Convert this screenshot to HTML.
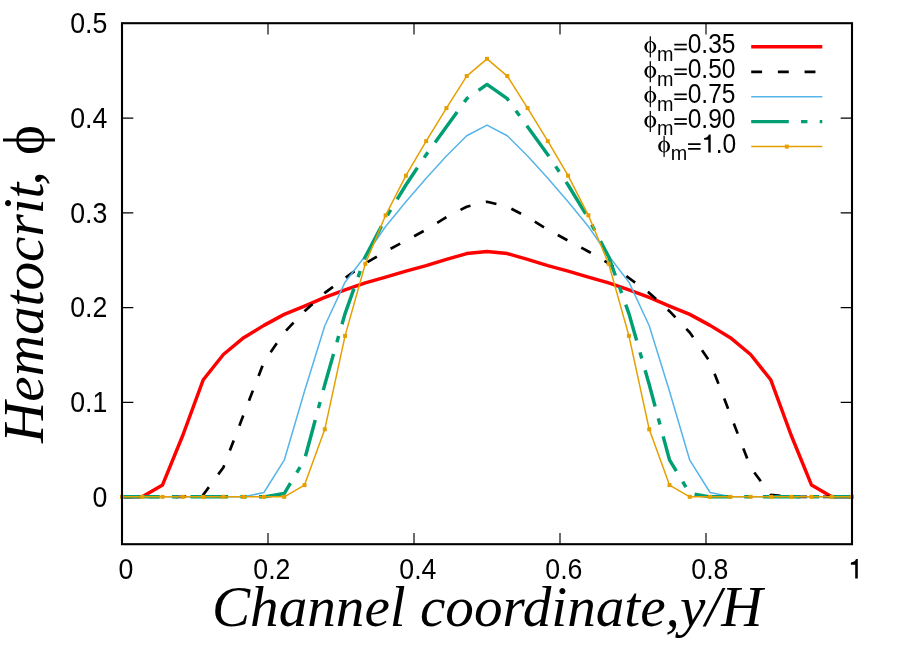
<!DOCTYPE html>
<html><head><meta charset="utf-8"><title>Hematocrit profile</title>
<style>html,body{margin:0;padding:0;background:#fff}svg{display:block;will-change:transform}</style></head>
<body>
<svg width="897" height="669" viewBox="0 0 897 669">
<rect width="897" height="669" fill="#fff"/>
<g stroke="#000" stroke-width="1.15" fill="none">
<path d="M122.00,497.04h11.3 M852.00,497.04h-11.3"/>
<path d="M122.00,402.31h11.3 M852.00,402.31h-11.3"/>
<path d="M122.00,307.58h11.3 M852.00,307.58h-11.3"/>
<path d="M122.00,212.85h11.3 M852.00,212.85h-11.3"/>
<path d="M122.00,118.13h11.3 M852.00,118.13h-11.3"/>
<path d="M268.00,544.20v-11.3 M268.00,23.20v11.3"/>
<path d="M414.00,544.20v-11.3 M414.00,23.20v11.3"/>
<path d="M560.00,544.20v-11.3 M560.00,23.20v11.3"/>
<path d="M706.00,544.20v-11.3 M706.00,23.20v11.3"/>
</g>
<g fill="none" stroke-linejoin="round">
<polyline points="122.00,496.84 142.28,496.84 162.56,484.90 182.83,435.26 203.11,380.04 223.39,354.46 243.67,337.69 263.94,325.38 284.22,314.39 304.50,306.06 324.78,297.44 345.06,289.95 365.33,282.94 385.61,277.07 405.89,271.10 426.17,265.70 446.44,259.45 466.72,253.58 487.00,251.49 507.28,253.58 527.56,259.45 547.83,265.70 568.11,271.10 588.39,277.07 608.67,282.94 628.94,289.95 649.22,297.44 669.50,306.06 689.78,314.39 710.06,325.38 730.33,337.69 750.61,354.46 770.89,380.04 791.17,435.26 811.44,484.90 831.72,496.84 852.00,496.84" stroke="#ff0000" stroke-width="3.45"/>
<polyline points="122.00,496.84 142.28,496.84 162.56,496.84 182.83,496.84 203.11,494.94 223.39,467.47 243.67,414.42 263.94,362.04 284.22,332.48 304.50,311.17 324.78,292.89 345.06,278.02 365.33,263.33 385.61,251.49 405.89,240.60 426.17,229.71 446.44,217.01 466.72,206.69 487.00,201.76 507.28,206.69 527.56,217.01 547.83,229.71 568.11,240.60 588.39,251.49 608.67,263.33 628.94,278.02 649.22,292.89 669.50,311.17 689.78,332.48 710.06,362.04 730.33,414.42 750.61,467.47 770.89,494.94 791.17,496.84 811.44,496.84 831.72,496.84 852.00,496.84" stroke="#000" stroke-width="2.7" stroke-dasharray="10.9,15.78"/>
<polyline points="122.00,496.84 142.28,496.84 162.56,496.84 182.83,496.84 203.11,496.84 223.39,496.84 243.67,496.84 263.94,492.48 284.22,460.18 304.50,391.22 324.78,325.76 345.06,282.18 365.33,255.76 385.61,226.48 405.89,201.76 426.17,178.17 446.44,155.91 466.72,135.74 487.00,125.13 507.28,135.74 527.56,155.91 547.83,178.17 568.11,201.76 588.39,226.48 608.67,255.76 628.94,282.18 649.22,325.76 669.50,391.22 689.78,460.18 710.06,492.48 730.33,496.84 750.61,496.84 770.89,496.84 791.17,496.84 811.44,496.84 831.72,496.84 852.00,496.84" stroke="#56b4e9" stroke-width="1.5"/>
<polyline points="122.00,496.84 142.28,496.84 162.56,496.84 182.83,496.84 203.11,496.84 223.39,496.84 243.67,496.84 263.94,496.84 284.22,493.52 304.50,459.89 324.78,384.58 345.06,313.63 365.33,256.70 385.61,218.34 405.89,184.99 426.17,154.68 446.44,126.83 466.72,98.70 487.00,84.39 507.28,98.70 527.56,126.83 547.83,154.68 568.11,184.99 588.39,218.34 608.67,256.70 628.94,313.63 649.22,384.58 669.50,459.89 689.78,493.52 710.06,496.84 730.33,496.84 750.61,496.84 770.89,496.84 791.17,496.84 811.44,496.84 831.72,496.84 852.00,496.84" stroke="#009e73" stroke-width="3.45" stroke-dasharray="37.6,12.25,6.4,12.25"/>
<polyline points="122.00,496.84 142.28,496.84 162.56,496.84 182.83,496.84 203.11,496.84 223.39,496.84 243.67,496.84 263.94,496.84 284.22,496.84 304.50,485.09 324.78,429.30 345.06,335.89 365.33,263.81 385.61,215.31 405.89,175.71 426.17,141.14 446.44,108.08 466.72,76.06 487.00,58.82 507.28,76.06 527.56,108.08 547.83,141.14 568.11,175.71 588.39,215.31 608.67,263.81 628.94,335.89 649.22,429.30 669.50,485.09 689.78,496.84 710.06,496.84 730.33,496.84 750.61,496.84 770.89,496.84 791.17,496.84 811.44,496.84 831.72,496.84 852.00,496.84" stroke="#e69f00" stroke-width="1.5"/>
</g>
<g fill="#e69f00">
<rect x="120.00" y="494.84" width="4" height="4"/>
<rect x="140.28" y="494.84" width="4" height="4"/>
<rect x="160.56" y="494.84" width="4" height="4"/>
<rect x="180.83" y="494.84" width="4" height="4"/>
<rect x="201.11" y="494.84" width="4" height="4"/>
<rect x="221.39" y="494.84" width="4" height="4"/>
<rect x="241.67" y="494.84" width="4" height="4"/>
<rect x="261.94" y="494.84" width="4" height="4"/>
<rect x="282.22" y="494.84" width="4" height="4"/>
<rect x="302.50" y="483.09" width="4" height="4"/>
<rect x="322.78" y="427.30" width="4" height="4"/>
<rect x="343.06" y="333.89" width="4" height="4"/>
<rect x="363.33" y="261.81" width="4" height="4"/>
<rect x="383.61" y="213.31" width="4" height="4"/>
<rect x="403.89" y="173.71" width="4" height="4"/>
<rect x="424.17" y="139.14" width="4" height="4"/>
<rect x="444.44" y="106.08" width="4" height="4"/>
<rect x="464.72" y="74.06" width="4" height="4"/>
<rect x="485.00" y="56.82" width="4" height="4"/>
<rect x="505.28" y="74.06" width="4" height="4"/>
<rect x="525.56" y="106.08" width="4" height="4"/>
<rect x="545.83" y="139.14" width="4" height="4"/>
<rect x="566.11" y="173.71" width="4" height="4"/>
<rect x="586.39" y="213.31" width="4" height="4"/>
<rect x="606.67" y="261.81" width="4" height="4"/>
<rect x="626.94" y="333.89" width="4" height="4"/>
<rect x="647.22" y="427.30" width="4" height="4"/>
<rect x="667.50" y="483.09" width="4" height="4"/>
<rect x="687.78" y="494.84" width="4" height="4"/>
<rect x="708.06" y="494.84" width="4" height="4"/>
<rect x="728.33" y="494.84" width="4" height="4"/>
<rect x="748.61" y="494.84" width="4" height="4"/>
<rect x="768.89" y="494.84" width="4" height="4"/>
<rect x="789.17" y="494.84" width="4" height="4"/>
<rect x="809.44" y="494.84" width="4" height="4"/>
<rect x="829.72" y="494.84" width="4" height="4"/>
<rect x="850.00" y="494.84" width="4" height="4"/>
</g>
<rect x="122.00" y="23.20" width="730.00" height="521.00" fill="none" stroke="#000" stroke-width="2.1"/>
<g font-family="'Liberation Sans', sans-serif" font-size="26.7" fill="#000">
<text transform="translate(107.3,506.74) scale(1,1.08)" text-anchor="end">0</text>
<text transform="translate(107.3,412.01) scale(1,1.08)" text-anchor="end">0.1</text>
<text transform="translate(107.3,317.28) scale(1,1.08)" text-anchor="end">0.2</text>
<text transform="translate(107.3,222.55) scale(1,1.08)" text-anchor="end">0.3</text>
<text transform="translate(107.3,127.83) scale(1,1.08)" text-anchor="end">0.4</text>
<text transform="translate(107.3,33.10) scale(1,1.08)" text-anchor="end">0.5</text>
<text transform="translate(125.85,579.3) scale(1,1.08)" text-anchor="middle">0</text>
<text transform="translate(271.85,579.3) scale(1,1.08)" text-anchor="middle">0.2</text>
<text transform="translate(417.85,579.3) scale(1,1.08)" text-anchor="middle">0.4</text>
<text transform="translate(563.85,579.3) scale(1,1.08)" text-anchor="middle">0.6</text>
<text transform="translate(709.85,579.3) scale(1,1.08)" text-anchor="middle">0.8</text>
</g>
<path d="M857.8,559.0V578.4H855.2V564.7H850.9V562.4Q854.8,562.2 856.0,559.0Z" fill="#000"/>
<text x="487.2" y="625.7" text-anchor="middle" font-family="'Liberation Serif', serif" font-style="italic" font-size="57.2" fill="#000">Channel coordinate,y/H</text>
<g font-family="'Liberation Serif', serif" fill="#000">
<text transform="translate(43.1,443) rotate(-90)" font-style="italic" font-size="57.2">Hematocrit</text>
<text transform="translate(41.3,185.5) rotate(-90)" font-style="italic" font-size="57.2">,</text>
<text transform="translate(43.1,155.1) rotate(-90)" font-size="57">ϕ</text>
</g>
<path fill-rule="evenodd" fill="#000" d="M644.35,47.00a5.95,6.1 0 1,0 11.9,0a5.95,6.1 0 1,0 -11.9,0Z M646.85,47.00a3.45,5.25 0 1,0 6.9,0a3.45,5.25 0 1,0 -6.9,0Z"/>
<rect x="649.68" y="36.30" width="1.25" height="21.1" fill="#000"/>
<text transform="translate(656.90,60.80) scale(1,1.06)" font-family="'Liberation Sans', sans-serif" font-size="19.8" fill="#000">m</text>
<path d="M674.30,43.70h12.5v1.8h-12.5z M674.30,48.40h12.5v1.8h-12.5z" fill="#000"/>
<text transform="translate(735.55,53.45) scale(1,1.10)" text-anchor="end" font-family="'Liberation Sans', sans-serif" font-size="24.6" fill="#000">0.35</text>
<path fill-rule="evenodd" fill="#000" d="M644.35,71.87a5.95,6.1 0 1,0 11.9,0a5.95,6.1 0 1,0 -11.9,0Z M646.85,71.87a3.45,5.25 0 1,0 6.9,0a3.45,5.25 0 1,0 -6.9,0Z"/>
<rect x="649.68" y="61.17" width="1.25" height="21.1" fill="#000"/>
<text transform="translate(656.90,85.67) scale(1,1.06)" font-family="'Liberation Sans', sans-serif" font-size="19.8" fill="#000">m</text>
<path d="M674.30,68.57h12.5v1.8h-12.5z M674.30,73.27h12.5v1.8h-12.5z" fill="#000"/>
<text transform="translate(735.55,78.32) scale(1,1.10)" text-anchor="end" font-family="'Liberation Sans', sans-serif" font-size="24.6" fill="#000">0.50</text>
<path fill-rule="evenodd" fill="#000" d="M644.35,96.74a5.95,6.1 0 1,0 11.9,0a5.95,6.1 0 1,0 -11.9,0Z M646.85,96.74a3.45,5.25 0 1,0 6.9,0a3.45,5.25 0 1,0 -6.9,0Z"/>
<rect x="649.68" y="86.04" width="1.25" height="21.1" fill="#000"/>
<text transform="translate(656.90,110.54) scale(1,1.06)" font-family="'Liberation Sans', sans-serif" font-size="19.8" fill="#000">m</text>
<path d="M674.30,93.44h12.5v1.8h-12.5z M674.30,98.14h12.5v1.8h-12.5z" fill="#000"/>
<text transform="translate(735.55,103.19) scale(1,1.10)" text-anchor="end" font-family="'Liberation Sans', sans-serif" font-size="24.6" fill="#000">0.75</text>
<path fill-rule="evenodd" fill="#000" d="M644.35,121.61a5.95,6.1 0 1,0 11.9,0a5.95,6.1 0 1,0 -11.9,0Z M646.85,121.61a3.45,5.25 0 1,0 6.9,0a3.45,5.25 0 1,0 -6.9,0Z"/>
<rect x="649.68" y="110.91" width="1.25" height="21.1" fill="#000"/>
<text transform="translate(656.90,135.41) scale(1,1.06)" font-family="'Liberation Sans', sans-serif" font-size="19.8" fill="#000">m</text>
<path d="M674.30,118.31h12.5v1.8h-12.5z M674.30,123.01h12.5v1.8h-12.5z" fill="#000"/>
<text transform="translate(735.55,128.06) scale(1,1.10)" text-anchor="end" font-family="'Liberation Sans', sans-serif" font-size="24.6" fill="#000">0.90</text>
<path fill-rule="evenodd" fill="#000" d="M658.15,146.48a5.95,6.1 0 1,0 11.9,0a5.95,6.1 0 1,0 -11.9,0Z M660.65,146.48a3.45,5.25 0 1,0 6.9,0a3.45,5.25 0 1,0 -6.9,0Z"/>
<rect x="663.48" y="135.78" width="1.25" height="21.1" fill="#000"/>
<text transform="translate(670.70,160.28) scale(1,1.06)" font-family="'Liberation Sans', sans-serif" font-size="19.8" fill="#000">m</text>
<path d="M688.10,143.18h12.5v1.8h-12.5z M688.10,147.88h12.5v1.8h-12.5z" fill="#000"/>
<text transform="translate(736.15,153.28) scale(1,1.10)" text-anchor="end" font-family="'Liberation Sans', sans-serif" font-size="24.6" fill="#000">.0</text>
<path d="M710.7,134.4V152.6H708.3V139.7H704.1V137.9Q707.6,137.6 708.9,134.4Z" fill="#000"/>
<g fill="none">
<path d="M751.2,46.8H822.3" stroke="#ff0000" stroke-width="3.45"/>
<path d="M751.2,71.8H822.3" stroke="#000" stroke-width="2.7" stroke-dasharray="10.9,15.78"/>
<path d="M751.2,96.7H822.3" stroke="#56b4e9" stroke-width="1.5"/>
<path d="M751.2,121.6H822.3" stroke="#009e73" stroke-width="3.45" stroke-dasharray="37.6,12.25,6.4,12.25"/>
<path d="M751.2,146.6H822.3" stroke="#e69f00" stroke-width="1.5"/>
</g>
<rect x="784.8" y="144.6" width="4" height="4" fill="#e69f00"/>
</svg>
</body></html>
